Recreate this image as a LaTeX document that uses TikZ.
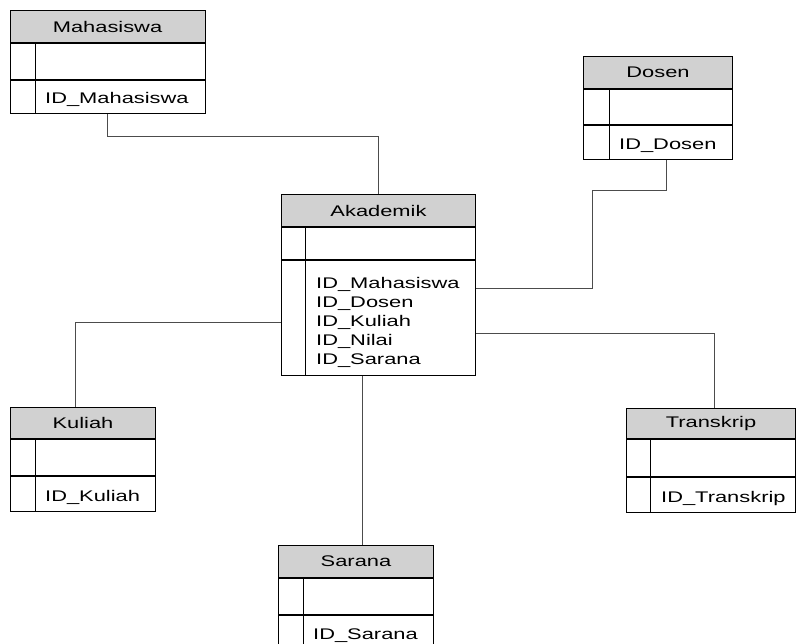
\documentclass[tikz,border=0pt]{standalone}
\usepackage{fontspec}
\setmainfont{Liberation Sans}[FakeStretch=1.42]
\usetikzlibrary{positioning,calc}

\begin{document}
\begin{tikzpicture}[
  x=1pt, y=-1pt,
  font=\fontsize{15.4}{19}\selectfont,
  hdr/.style={draw, line width=1pt, fill=black!18, inner sep=0pt,
              minimum height=32pt, anchor=north west},
  rw/.style={draw, line width=1pt, inner sep=0pt},
  col/.style={line width=1pt},
  fld/.style={inner sep=0pt, anchor=base west},
  link/.style={draw=black!70, line width=0.8pt}
]
\useasboundingbox (0,0) rectangle (796,644);

% Mahasiswa
\node[hdr, minimum width=195pt] (mhs) at (9.5,10) {Mahasiswa};
\node[rw, minimum width=195pt, minimum height=36pt, below=0pt of mhs] (mhsk) {};
\node[rw, minimum width=195pt, minimum height=33pt, below=0pt of mhsk] (mhsf) {};
\draw[col] ($(mhsk.north west)+(25.5,0)$) -- ($(mhsf.south west)+(25.5,0)$);
\node[fld] (mhst) at ($(mhsf.west)+(35.5,7)$) {ID\_Mahasiswa};

% Dosen
\node[hdr, minimum width=149pt] (dsn) at (583,56) {Dosen};
\node[rw, minimum width=149pt, minimum height=35pt, below=0pt of dsn] (dsnk) {};
\node[rw, minimum width=149pt, minimum height=34pt, below=0pt of dsnk] (dsnf) {};
\draw[col] ($(dsnk.north west)+(26,0)$) -- ($(dsnf.south west)+(26,0)$);
\node[fld] (dsnt) at ($(dsnf.west)+(36,7)$) {ID\_Dosen};

% Akademik
\node[hdr, minimum width=194pt] (akd) at (281,194) {Akademik};
\node[rw, minimum width=194pt, minimum height=32pt, below=0pt of akd] (akdk) {};
\node[rw, minimum width=194pt, minimum height=115pt, below=0pt of akdk] (akdf) {};
\draw[col] ($(akdk.north west)+(24,0)$) -- ($(akdf.south west)+(24,0)$);
\node[fld, anchor=north west, align=left] (akdt) at ($(akdf.north west)+(35,17)$)
  {ID\_Mahasiswa\\ID\_Dosen\\ID\_Kuliah\\ID\_Nilai\\ID\_Sarana};

% Kuliah
\node[hdr, minimum width=145pt, minimum height=31pt] (kul) at (10,407) {Kuliah};
\node[rw, minimum width=145pt, minimum height=36pt, below=0pt of kul] (kulk) {};
\node[rw, minimum width=145pt, minimum height=35pt, below=0pt of kulk] (kulf) {};
\draw[col] ($(kulk.north west)+(25,0)$) -- ($(kulf.south west)+(25,0)$);
\node[fld] (kult) at ($(kulf.west)+(35,7)$) {ID\_Kuliah};

% Transkrip
\node[hdr, minimum width=169pt, minimum height=30pt] (trk) at (626,408) {Transkrip};
\node[rw, minimum width=169pt, minimum height=37pt, below=0pt of trk] (trkk) {};
\node[rw, minimum width=169pt, minimum height=35pt, below=0pt of trkk] (trkf) {};
\draw[col] ($(trkk.north west)+(24,0)$) -- ($(trkf.south west)+(24,0)$);
\node[fld] (trkt) at ($(trkf.west)+(35,7)$) {ID\_Transkrip};

% Sarana
\node[hdr, minimum width=155pt] (srn) at (278,545) {Sarana};
\node[rw, minimum width=155pt, minimum height=36pt, below=0pt of srn] (srnk) {};
\node[rw, minimum width=155pt, minimum height=34pt, below=0pt of srnk] (srnf) {};
\draw[col] ($(srnk.north west)+(25,0)$) -- ($(srnf.south west)+(25,0)$);
\node[fld] (srnt) at ($(srnf.west)+(35,7)$) {ID\_Sarana};

% relasi
\draw[link] (mhsf.south) -- ++(0,22) -| (akd.north);
\draw[link] ($(dsnf.south)+(8.5,0)$) -- ++(0,30) -- ++(-74,0) |- ($(akdf.north east)+(0,28)$);
\draw[link] ($(akdf.north east)+(0,73)$) -| ($(trk.north)+(3.5,0)$);
\draw[link] ($(akdf.north west)+(0,62)$) -| ($(kul.north)+(-7.5,0)$);
\coordinate (aks) at ($(akdf.south)+(-16,0)$);
\draw[link] (aks) -- (aks |- srn.north);
\end{tikzpicture}
\end{document}
